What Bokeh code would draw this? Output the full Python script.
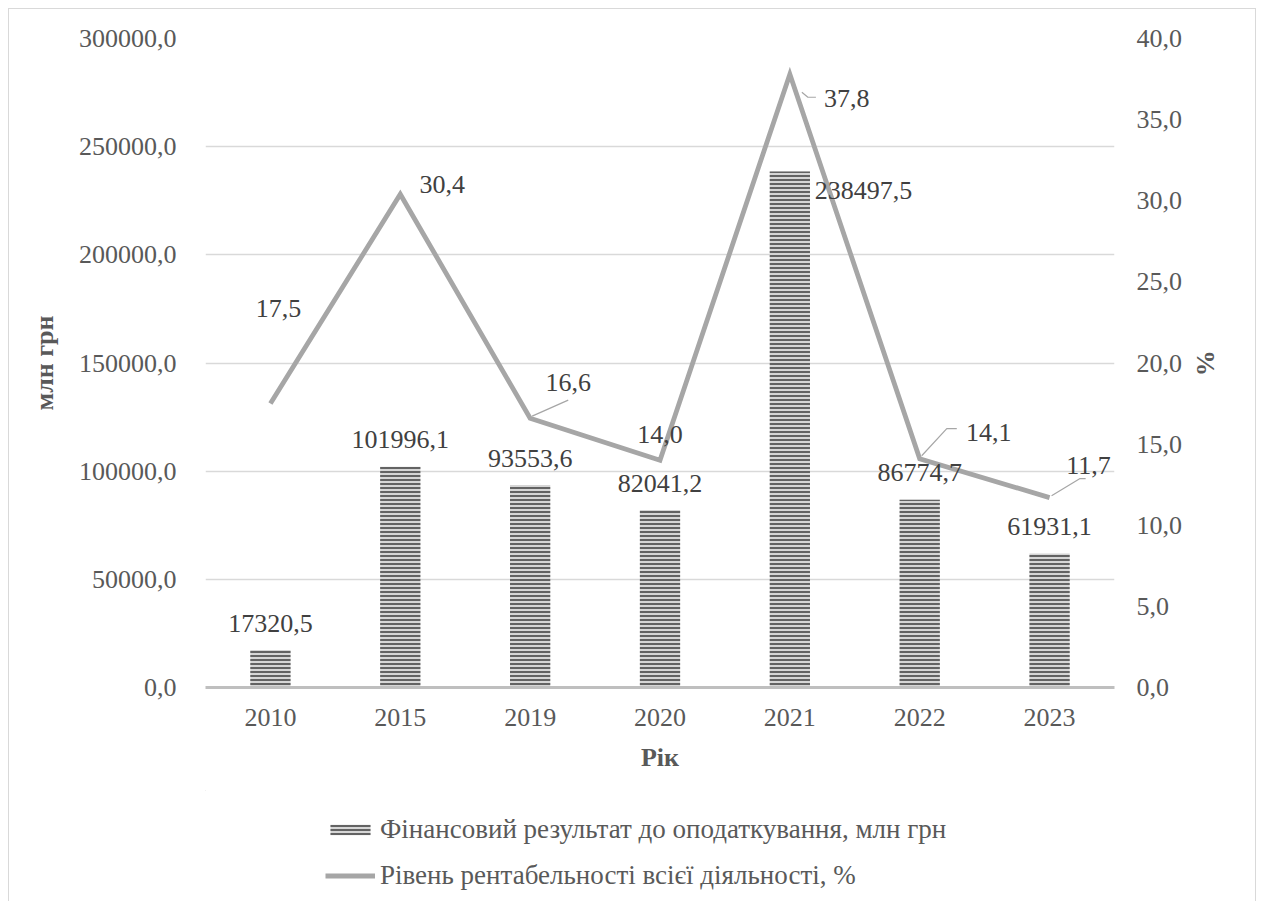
from bokeh.plotting import figure
from bokeh.layouts import column
from bokeh.models import (Range1d, LinearAxis, FixedTicker, CustomJSTickFormatter,
                          Legend, LegendItem, ColumnDataSource)
from bokeh.embed import file_html
from bokeh.resources import INLINE
from bokeh.core.properties import value

# ---- data ----
years = ["2010", "2015", "2019", "2020", "2021", "2022", "2023"]
fin_result = [17320.5, 101996.1, 93553.6, 82041.2, 238497.5, 86774.7, 61931.1]
profitability = [17.5, 30.4, 16.6, 14.0, 37.8, 14.1, 11.7]
left_ticks = [0, 50000, 100000, 150000, 200000, 250000, 300000]
right_ticks = [0, 5, 10, 15, 20, 25, 30, 35, 40]
series_names = ["Фінансовий результат до оподаткування, млн грн",
                "Рівень рентабельності всієї діяльності, %"]

# ---- label placement (pixels) ----
bar_lbl_dx = [0, 0, 0, 0, 25, 0, 0]
bar_lbl_dy = [-27, -27, -27, -27, 19, -27, -27]
bar_lbl_align = ["center", "center", "center", "center", "left", "center", "center"]
pct_lbl_dx = [8, 42, 38, 0, 57, 69, 39]
pct_lbl_dy = [-95, -10, -36, -26, 24, -26, -32]
leaders = {
    2: [(2, -2), (38, -18)],
    4: [(12, 18), (18, 23), (26, 23)],
    5: [(2, -3), (27, -30), (37, -30)],
    6: [(2, -2), (30, -19), (36, -19)],
}

FONT = "Liberation Serif"
FS = "26px"
LEG_FS = "27px"
TICK_C = "#595959"
LBL_C = "#404040"
GRAY = "#a6a6a6"
BORDER = "1px solid #d9d9d9"
BAR_STYLE = dict(fill_color="#d6d6d6", line_color=None, hatch_pattern="horizontal_line",
                 hatch_color="#555555", hatch_scale=4, hatch_weight=1.8)
LINE_STYLE = dict(line_color=GRAY, line_width=4.8, line_join="miter")

def fmt(v):
    return f"{v:.1f}".replace(".", ",")

xs = list(range(len(years)))

p = figure(width=1248, height=782, output_backend="svg", toolbar_location=None,
           x_range=Range1d(-0.5, len(years) - 0.5), y_range=Range1d(0, 300000),
           min_border_left=196, min_border_right=143, min_border_top=29,
           min_border_bottom=104)
p.extra_y_ranges = {"pct": Range1d(0, 40)}
p.outline_line_color = None
p.styles = {"border-left": BORDER, "border-top": BORDER, "border-right": BORDER}
p.xgrid.grid_line_color = None
p.ygrid.grid_line_color = "#d9d9d9"
p.ygrid.grid_line_width = 1.5
p.ygrid.ticker = FixedTicker(ticks=left_ticks)

comma_fmt = CustomJSTickFormatter(code="return tick.toFixed(1).replace('.', ',')")

xa = p.xaxis[0]
xa.ticker = FixedTicker(ticks=xs)
xa.major_label_overrides = {i: y for i, y in enumerate(years)}
xa.axis_line_color = "#bfbfbf"
xa.axis_line_width = 3
xa.major_label_standoff = 15
xa.axis_label = "Рік"
xa.axis_label_standoff = 14

ya = p.yaxis[0]
ya.ticker = FixedTicker(ticks=left_ticks)
ya.formatter = comma_fmt
ya.axis_label = "млн грн"
ya.major_label_standoff = 23
ya.axis_label_standoff = 17

ra = LinearAxis(y_range_name="pct", ticker=FixedTicker(ticks=right_ticks),
                formatter=comma_fmt, axis_label="%")
ra.major_label_standoff = 16
ra.axis_label_standoff = 6
p.add_layout(ra, "right")

for ax in [xa, ya, ra]:
    ax.major_label_text_font = FONT
    ax.major_label_text_font_size = FS
    ax.major_label_text_color = TICK_C
    ax.axis_label_text_font = FONT
    ax.axis_label_text_font_size = FS
    ax.axis_label_text_font_style = "bold"
    ax.axis_label_text_color = TICK_C
    ax.major_tick_line_color = None
    ax.minor_tick_line_color = None
for ax in [ya, ra]:
    ax.axis_line_color = None

bars = p.vbar(x=xs, top=fin_result, width=0.31, **BAR_STYLE)
line = p.line(xs, profitability, y_range_name="pct", **LINE_STYLE)

# leader lines (pixel offsets converted to data units)
px_x = 907 / len(years)
px_y = 648 / 40
lx, ly = [], []
for i, pts in leaders.items():
    lx.append([xs[i] + dx / px_x for dx, dy in pts])
    ly.append([profitability[i] - dy / px_y for dx, dy in pts])
p.multi_line(xs=lx, ys=ly, y_range_name="pct", line_color=GRAY, line_width=1.2)

bar_src = ColumnDataSource(dict(x=xs, y=fin_result, t=[fmt(v) for v in fin_result],
                                dx=bar_lbl_dx, dy=bar_lbl_dy, al=bar_lbl_align))
p.text(x="x", y="y", text="t", x_offset="dx", y_offset="dy", text_align="al",
       text_baseline="middle", text_font=value(FONT), text_font_size=FS,
       text_color=LBL_C, source=bar_src)

pct_src = ColumnDataSource(dict(x=xs, y=profitability, t=[fmt(v) for v in profitability],
                                dx=pct_lbl_dx, dy=pct_lbl_dy))
p.text(x="x", y="y", text="t", x_offset="dx", y_offset="dy", text_align="center",
       text_baseline="middle", text_font=value(FONT), text_font_size=FS,
       text_color=LBL_C, source=pct_src, y_range_name="pct")

# ---- legend strip (same series, drawn outside its visible range) ----
lg = figure(width=1248, height=111, output_backend="svg", toolbar_location=None,
            x_range=Range1d(100, 101), y_range=Range1d(-1e7, -1e7 + 1),
            x_axis_location=None, y_axis_location=None,
            min_border_left=0, min_border_right=0, min_border_top=0, min_border_bottom=0)
lg.outline_line_color = None
lg.xgrid.grid_line_color = None
lg.ygrid.grid_line_color = None
lg.styles = {"border-left": BORDER, "border-right": BORDER}
lbars = lg.vbar(x=xs, top=fin_result, width=0.31, **BAR_STYLE)
lline = lg.line(x=xs, y=profitability, **LINE_STYLE)

legend = Legend(items=[
    LegendItem(label=series_names[0], renderers=[lbars]),
    LegendItem(label=series_names[1], renderers=[lline]),
], location=(120, 10), orientation="vertical", glyph_width=50, glyph_height=13,
    label_standoff=5, spacing=15, padding=0, margin=0, border_line_color=None,
    background_fill_alpha=0, label_text_font=FONT, label_text_font_size=LEG_FS,
    label_text_color=TICK_C)
lg.add_layout(legend)

layout = column(p, lg, spacing=0)
layout.styles = {"margin-left": "8px", "margin-top": "8px"}

open("out.html", "w").write(file_html(layout, INLINE))
